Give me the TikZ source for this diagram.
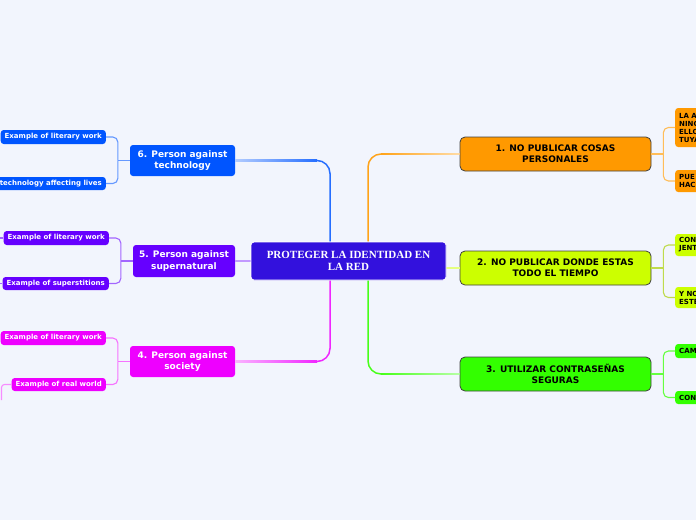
\documentclass[tikz,border=0pt]{standalone}
\usepackage{fontspec}
\newfontfamily\vfont{DejaVu Sans}
\newfontfamily\tfont{Liberation Serif}
\usetikzlibrary{calc}
\definecolor{bg}{HTML}{F2F5FD}
\definecolor{cmain}{HTML}{3311DD}
\definecolor{corange}{HTML}{FF9900}
\definecolor{cyel}{HTML}{CCFF00}
\definecolor{cgreen}{HTML}{33FF00}
\definecolor{cblue}{HTML}{0055FF}
\definecolor{cviolet}{HTML}{6600FF}
\definecolor{cmag}{HTML}{EE00FF}
\tikzset{
  centerbox/.style={draw=white, line width=0.8pt, fill=cmain, rounded corners=3pt, minimum width=195pt, minimum height=38pt, align=center, text=white, font=\tfont\bfseries\fontsize{11}{12}\selectfont, inner sep=2pt},
  rbranch/.style={draw=black!75, line width=0.8pt, fill=#1, rounded corners=5pt, minimum width=191pt, minimum height=34pt, align=center, text=black, font=\vfont\bfseries\fontsize{9}{11}\selectfont, inner sep=2pt},
  lbranch/.style={fill=#1, rounded corners=3pt, minimum height=31pt, align=center, text=white, font=\vfont\bfseries\fontsize{9}{11.5}\selectfont, inner sep=2pt},
  lleaf/.style={fill=#1, rounded corners=3pt, minimum height=14pt, inner xsep=4pt, inner ysep=2pt, text=white, font=\vfont\bfseries\fontsize{7}{8}\selectfont, anchor=east},
  rleaf/.style={fill=#1, rounded corners=3pt, inner xsep=4pt, inner ysep=3pt, text=black, align=left, text width=70pt, font=\vfont\bfseries\fontsize{7}{8}\selectfont, anchor=west},
  bline/.style={line width=1.5pt, rounded corners=13pt},
  leafline/.style={line width=1.1pt, rounded corners=5pt},
}
\begin{document}
\begin{tikzpicture}[x=1pt,y=-1pt]
\fill[bg] (0,0) rectangle (696,520);
\useasboundingbox (0,0) rectangle (696,520);

\coordinate (bx) at (330,0);
\coordinate (ox) at (368,0);

\node[centerbox] (C) at (348.5,261) {PROTEGER LA IDENTIDAD EN\\LA RED};

\node[rbranch=corange] (N1) at (555.5,154) {1. NO PUBLICAR COSAS\\PERSONALES};
\node[rbranch=cyel] (N2) at (555.5,268) {2. NO PUBLICAR DONDE ESTAS\\TODO EL TIEMPO};
\node[rbranch=cgreen] (N3) at (555.5,374) {3. UTILIZAR CONTRASEÑAS\\SEGURAS};

\node[lbranch=cblue, minimum width=105pt] (N6) at (182.5,160.5) {6. Person against\\technology};
\node[lbranch=cviolet, minimum width=102pt, minimum height=32pt] (N5) at (184,261) {5. Person against\\supernatural};
\node[lbranch=cmag, minimum width=105pt] (N4) at (182.5,361.5) {4. Person against\\society};

% left leaves
\node[lleaf=cblue] (L6a) at (106,137) {Example of literary work};
\node[lleaf=cblue, minimum height=13pt] (L6b) at (106,183.5) {technology affecting lives};
\node[lleaf=cviolet] (L5a) at (109,238) {Example of literary work};
\node[lleaf=cviolet, minimum height=13pt] (L5b) at (109,283.5) {Example of superstitions};
\node[lleaf=cmag] (L4a) at (106,338) {Example of literary work};
\node[lleaf=cmag, minimum height=13pt] (L4b) at (106,384.5) {Example of real world};

% right leaves
\node[rleaf=corange, minimum height=39pt] (R1a) at (675,127.5) {LA A\\NING\\ELLO\\TUYA};
\node[rleaf=corange, minimum height=22pt] (R1b) at (675,181) {PUE\\HAC};
\node[rleaf=cyel, minimum height=22pt] (R2a) at (675,245) {CON\\JENT};
\node[rleaf=cyel, minimum height=21pt] (R2b) at (675,297.5) {Y NO\\ESTÉ};
\node[rleaf=cgreen, minimum height=14pt, inner ysep=2pt] (R3a) at (675,351) {CAM};
\node[rleaf=cgreen, minimum height=13pt, inner ysep=2pt] (R3b) at (675,397.5) {CON};

% main branch connectors: saturated near the centre, fading toward the branch
\draw[bline, cblue!85] (C.north -| bx) |- (N6.east);
\shade[left color=cblue!30, right color=cblue!85] ($(N6.east)+(0,-0.75)$) rectangle ($(N6.east -| bx)+(-13,0.75)$);
\draw[bline, cmag!85] (C.south -| bx) |- (N4.east);
\shade[left color=cmag!30, right color=cmag!85] ($(N4.east)+(0,-0.75)$) rectangle ($(N4.east -| bx)+(-13,0.75)$);
\draw[bline, corange!90] (C.north -| ox) |- (N1.west);
\shade[right color=corange!35, left color=corange!90] ($(N1.west -| ox)+(13,-0.75)$) rectangle ($(N1.west)+(0,0.75)$);
\draw[bline, cgreen!90] (C.south -| ox) |- (N3.west);
\shade[right color=cgreen!35, left color=cgreen!90] ($(N3.west -| ox)+(13,-0.75)$) rectangle ($(N3.west)+(0,0.75)$);
\draw[line width=1.5pt, cviolet!40] (C.west) -- (N5.east);
\draw[line width=1.5pt, cyel!50] (C.east |- N2.west) -- (N2.west);

% right leaf brackets
\coordinate (k1) at ($(N1.east)+(12,0)$);
\draw[leafline, corange!65] (N1.east) -- (k1);
\draw[leafline, corange!65] (k1) |- (R1a.west);
\draw[leafline, corange!65] (k1) |- (R1b.west);
\coordinate (k2) at ($(N2.east)+(12,0)$);
\draw[leafline, cyel!80!black!70] (N2.east) -- (k2);
\draw[leafline, cyel!80!black!70] (k2) |- (R2a.west);
\draw[leafline, cyel!80!black!70] (k2) |- (R2b.west);
\coordinate (k3) at ($(N3.east)+(12,0)$);
\draw[leafline, cgreen!75] (N3.east) -- (k3);
\draw[leafline, cgreen!75] (k3) |- (R3a.west);
\draw[leafline, cgreen!75] (k3) |- (R3b.west);

% left leaf brackets
\coordinate (j6) at ($(N6.west)+(-12,0)$);
\draw[leafline, cblue!60] (N6.west) -- (j6);
\draw[leafline, cblue!60] (j6) |- (L6a.east);
\draw[leafline, cblue!60] (j6) |- (L6b.east);
\coordinate (j5) at ($(N5.west)+(-12,0)$);
\draw[leafline, cviolet!60] (N5.west) -- (j5);
\draw[leafline, cviolet!60] (j5) |- (L5a.east);
\draw[leafline, cviolet!60] (j5) |- (L5b.east);
\coordinate (j4) at ($(N4.west)+(-12,0)$);
\draw[leafline, cmag!55] (N4.west) -- (j4);
\draw[leafline, cmag!55] (j4) |- (L4a.east);
\draw[leafline, cmag!55] (j4) |- (L4b.east);

% stubs toward children outside the picture
\coordinate (s5a) at (-6,238);
\coordinate (s5b) at (-6,283.5);
\coordinate (s4b) at (1.5,400);
\draw[line width=1.1pt, cviolet!60] (L5a.west) -- (s5a);
\draw[line width=1.1pt, cviolet!60] (L5b.west) -- (s5b);
\draw[leafline, rounded corners=3pt, cmag!45] (L4b.west) -| (s4b);

% centre node redrawn on top of the connectors
\node[centerbox] at (C) {PROTEGER LA IDENTIDAD EN\\LA RED};
\end{tikzpicture}
\end{document}
